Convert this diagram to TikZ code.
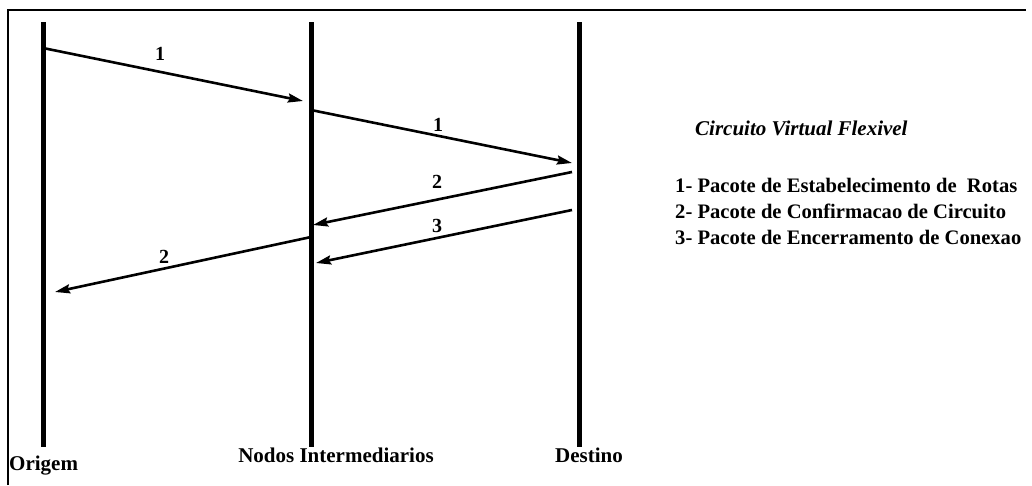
\documentclass[tikz,border=0pt]{standalone}
\usepackage{fontspec}
\setmainfont{Liberation Serif}
\usetikzlibrary{arrows.meta}
\begin{document}
\begin{tikzpicture}[x=1pt,y=-1pt,
  life/.style={line width=5pt},
  msg/.style={line width=2.6pt,-{Stealth[length=15pt,width=9pt,inset=2pt]}},
  lbl/.style={font=\fontsize{20}{24}\selectfont\bfseries,inner sep=0pt},
  txt/.style={font=\fontsize{21}{24}\selectfont\bfseries,inner sep=0pt},
  leg/.style={font=\fontsize{20.6}{24}\selectfont\bfseries,inner sep=0pt,anchor=west},
  frame/.style={line width=2.5pt}]
\useasboundingbox (0,0) rectangle (1032,485);
% frame
\coordinate (fl) at (8,485);
\coordinate (fc) at (8,10);
\coordinate (fr) at (1026,10);
\draw[frame] (fl) -- (fc) -- (fr);
% lifelines
\coordinate (oT) at (43,22); \coordinate (oB) at (43,447);
\coordinate (nT) at (311,22); \coordinate (nB) at (311,447);
\coordinate (dT) at (579,22); \coordinate (dB) at (579,447);
\draw[life] (oT) -- (oB);
\draw[life] (nT) -- (nB);
\draw[life] (dT) -- (dB);
% message endpoints
\coordinate (a1s) at (43,48);  \coordinate (a1e) at (303,101);
\coordinate (a2s) at (311,110); \coordinate (a2e) at (572,163);
\coordinate (a3s) at (572,172); \coordinate (a3e) at (313,225);
\coordinate (a4s) at (572,210); \coordinate (a4e) at (316,263);
\coordinate (a5s) at (311,237); \coordinate (a5e) at (55,292);
\draw[msg] (a1s) -- (a1e);
\draw[msg] (a2s) -- (a2e);
\draw[msg] (a3s) -- (a3e);
\draw[msg] (a4s) -- (a4e);
\draw[msg] (a5s) -- (a5e);
\node[lbl] (l1) at (160,54) {1};
\node[lbl] (l2) at (438,125) {1};
\node[lbl] (l3) at (437,182) {2};
\node[lbl] (l4) at (437,226) {3};
\node[lbl] (l5) at (164,257) {2};
% bottom labels
\node[txt,anchor=west] (org) at (9,466) {Origem};
\node[txt] (nod) at (336,455) {Nodos Intermediarios};
\node[txt] (des) at (589,455) {Destino};
% legend
\node[font=\fontsize{21}{24}\selectfont\bfseries\itshape,inner sep=0pt,anchor=west] (tit) at (695,128) {Circuito Virtual Flexivel};
\node[leg] (g1) at (675,185) {1- Pacote de Estabelecimento de\ \ Rotas};
\node[leg] (g2) at (675,211) {2- Pacote de Confirmacao de Circuito};
\node[leg] (g3) at (675,237) {3- Pacote de Encerramento de Conexao};
\end{tikzpicture}
\end{document}
